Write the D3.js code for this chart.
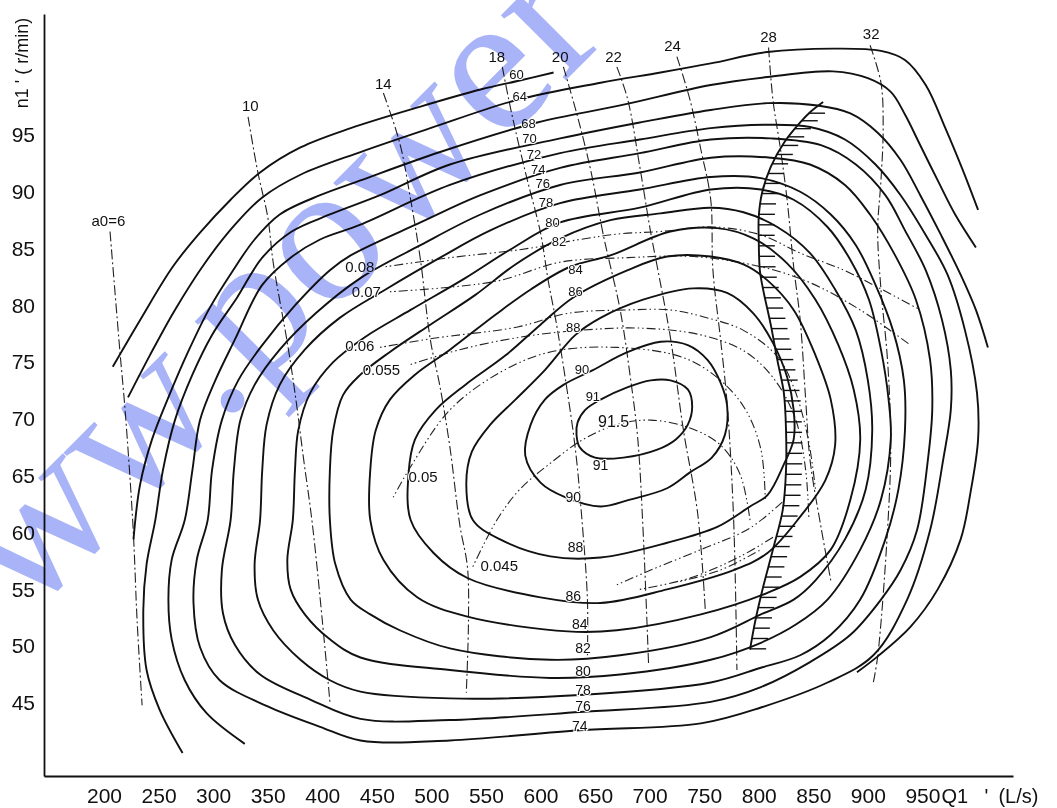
<!DOCTYPE html>
<html><head><meta charset="utf-8">
<script src="https://cdn.jsdelivr.net/npm/d3@7"></script>
<style>
body{margin:0;background:#fff;}
svg{display:block;}
</style></head><body>
<svg id="chart" width="1057" height="808"></svg>
<script>
// ---------- axes ----------
const qDomain = [145, 1033];
const nDomain = [38.57, 105.65];
const qTicks = [200,250,300,350,400,450,500,550,600,650,700,750,800,850,900,950];
const nTicks = [45,50,55,60,65,70,75,80,85,90,95];

// ---------- efficiency contours  [Q1' (L/s), n1' (r/min)] ----------
const eff60 = [[208,74.6],[233,78.7],[263,83.4],[288,86.4],[316,89.3],[343,91.7],[380,93.9],[426,95.6],[490,97.5],[545,99.0],[581,99.8],[612,100.5]];
const eff64 = [[222,71.9],[242,75.6],[265,79.6],[293,83.8],[320,87.1],[345,89.5],[380,91.5],[435,93.5],[499,95.6],[579,98.1],[655,99.6],[710,100.5],[756,101.3],[808,102.3],[868,102.6],[912,102.4],[934,101.6],[953,99.4],[971,95.6],[987,91.9],[1001,88.4]];
const eff68 = [[227,59.4],[233,64.2],[244,68.2],[259,71.9],[277,75.9],[297,79.8],[317,82.9],[338,85.8],[361,88.0],[398,89.7],[435,91.0],[508,93.5],[597,96.1],[673,97.6],[756,99.4],[808,100.1],[868,100.6],[900,100.0],[921,98.8],[934,96.8],[948,94.1],[964,91.0],[980,88.0],[999,85.1]];
const eff70 = [[272,40.6],[251,44.4],[239,47.9],[236,53.2],[239,57.2],[247,61.1],[254,65.5],[265,69.9],[281,73.9],[299,77.4],[322,80.7],[345,84.2],[372,86.5],[407,88.0],[453,89.7],[517,92.4],[618,94.7],[691,96.1],[756,97.2],[808,97.8],[854,97.6],[884,96.9],[909,95.2],[930,92.8],[948,89.7],[967,86.2],[985,82.7],[999,79.6],[1010,76.3]];
const eff72 = [[329,41.4],[294,44.1],[274,47.0],[262,50.6],[259,54.1],[262,57.6],[274,61.1],[281,65.5],[288,69.9],[302,73.4],[320,77.0],[345,81.8],[371,84.2],[398,85.8],[435,87.1],[517,90.6],[618,93.4],[691,94.6],[756,95.6],[808,95.9],[847,95.7],[879,94.6],[907,92.4],[930,89.7],[953,86.2],[973,82.7],[989,77.8],[1000,72.3],[1001,68.2],[994,63.5],[985,59.4],[964,55.0],[939,51.7],[909,49.1],[890,47.7]];
const eff74 = [[295,61.1],[299,65.5],[308,69.9],[323,73.4],[345,76.5],[375,80.0],[407,83.1],[426,84.4],[490,87.3],[545,89.7],[618,92.1],[691,93.4],[756,94.6],[811,94.7],[857,94.1],[889,92.4],[916,89.7],[934,86.6],[953,83.1],[968,78.7],[976,74.3],[976,70.8],[969,66.4],[957,60.2],[936,54.1],[905,49.2],[863,46.8],[802,44.6],[747,43.2],[636,42.6],[517,41.7],[435,41.7],[398,42.9],[350,44.7],[306,47.0],[288,49.9],[282,53.8],[285,57.6]];
const eff76 = [[316,61.1],[319,65.5],[325,69.9],[338,73.0],[361,76.1],[394,79.3],[435,82.4],[490,85.3],[545,88.0],[618,90.6],[691,91.7],[756,93.0],[811,93.0],[847,92.4],[879,90.6],[902,88.0],[925,84.4],[944,80.5],[957,75.2],[959,70.8],[955,66.4],[945,60.2],[930,56.7],[912,54.1],[884,51.0],[847,48.6],[802,46.4],[756,45.1],[636,44.2],[517,43.5],[435,43.6],[389,45.3],[343,47.5],[320,50.1],[309,52.9],[308,56.7]];
const eff78 = [[343,61.1],[345,65.5],[349,69.5],[361,73.0],[384,76.1],[416,78.9],[458,81.4],[508,84.2],[554,86.6],[618,89.0],[691,90.2],[756,91.3],[802,91.2],[838,90.0],[866,88.0],[889,85.3],[907,81.8],[923,77.8],[933,73.4],[934,69.0],[928,63.8],[916,59.4],[893,54.1],[866,51.0],[838,49.2],[802,48.1],[756,46.8],[636,45.7],[517,45.4],[435,46.0],[407,47.0],[380,48.8],[355,51.4],[341,54.1],[338,57.2]];
const eff80 = [[373,61.1],[375,65.5],[378,69.0],[389,72.3],[410,75.0],[439,77.2],[481,79.6],[531,82.4],[572,84.9],[618,87.3],[691,88.6],[756,90.2],[802,90.2],[832,89.3],[863,86.9],[884,84.0],[901,80.5],[912,76.1],[919,71.7],[921,68.2],[912,62.9],[893,58.5],[863,54.1],[834,51.9],[802,50.3],[756,48.8],[673,47.5],[609,47.2],[517,47.9],[435,49.0],[407,50.6],[384,52.8],[371,55.0],[368,57.6]];
const eff82 = [[407,61.1],[407,65.5],[410,69.0],[419,72.1],[435,73.9],[462,75.9],[499,78.3],[540,80.9],[577,83.6],[618,85.9],[664,87.5],[710,88.1],[756,88.6],[786,88.2],[817,86.9],[847,84.6],[870,81.4],[889,77.8],[900,73.4],[904,69.0],[898,63.8],[879,59.4],[852,55.8],[832,54.1],[802,52.8],[756,50.8],[673,49.2],[609,48.8],[517,49.8],[471,51.4],[444,52.8],[426,54.1],[412,57.2]];
const eff84 = [[444,61.1],[444,65.5],[449,69.0],[462,71.7],[485,73.9],[517,76.1],[559,79.2],[591,81.4],[627,83.4],[664,84.4],[719,86.5],[762,86.8],[795,85.9],[826,83.7],[852,80.5],[873,76.5],[887,72.6],[893,68.2],[884,62.9],[866,58.5],[838,56.1],[808,54.7],[747,52.8],[670,51.4],[625,51.3],[533,52.6],[487,54.3],[456,57.6]];
const eff86 = [[481,61.1],[479,65.1],[485,68.2],[504,70.8],[531,73.0],[568,75.6],[600,78.3],[630,80.7],[680,83.1],[716,84.3],[756,84.3],[786,83.6],[808,82.2],[832,79.6],[852,75.6],[866,71.7],[870,67.7],[861,64.6],[838,61.4],[808,58.2],[777,56.7],[716,55.0],[655,53.8],[600,54.3],[533,56.0],[502,58.2]];
const eff88 = [[538,61.1],[532,64.2],[537,67.1],[554,69.5],[577,71.7],[604,74.3],[632,77.4],[655,78.9],[694,80.5],[740,81.5],[771,81.1],[795,79.3],[813,76.7],[826,73.7],[832,70.8],[832,68.2],[823,66.0],[808,63.3],[792,62.3],[762,60.5],[716,59.1],[655,57.8],[609,57.9],[563,59.4]];
const eff90 = [[586,66.8],[591,69.5],[604,71.7],[621,73.0],[648,74.3],[680,75.9],[710,76.8],[735,76.5],[753,75.2],[765,73.2],[771,71.2],[769,68.6],[757,66.6],[737,65.3],[716,63.9],[682,62.9],[655,62.3],[623,63.1],[600,64.4]];
const eff91 = [[634,69.7],[641,70.8],[655,71.7],[680,72.8],[701,73.4],[719,73.4],[735,72.6],[739,71.1],[735,69.5],[724,68.2],[707,67.3],[676,66.6],[650,66.6],[636,67.5],[633,68.6]];

// contour labels: [text, Q, n]
const effLabelsUpper = [["60",578,100.2],["64",581,98.3],["68",589,95.9],["70",590,94.6],["72",594,93.2],["74",598,91.9],["76",602,90.6],["78",605,89.0],["80",611,87.2],["82",617,85.5],["84",632,83.1],["86",632,81.1],["88",630,78.0],["90",638,74.3],["91",648,71.9]];
const effLabelsCenter = [["91.5",667,69.65]];
const effLabelsLower = [["91",655,65.8],["90",630,63.0],["88",632,58.6],["86",630,54.3],["84",636,51.8],["82",639,49.7],["80",639,47.7],["78",639,46.06],["76",639,44.6],["74",636,42.9]];

// ---------- guide-vane opening a0 lines ----------
const a0_6  = [[205.5,86.5],[214.7,75.8],[219.3,70.8],[226.6,60.5],[230.3,52.3],[234.9,44.8]];
const a0_10 = [[332,96.6],[341,91.7],[350,87.8],[355,83.8],[368,76.7],[375,72.3],[383,66.4],[391,60.7],[400,52.3],[407,45.1]];
const a0_14 = [[456,98.7],[471,94.3],[481,89.3],[490,84.0],[499,77.0],[508,72.8],[517,67.5],[526,60.7],[533,57.0],[534,52.3],[532,45.9]];
const a0_18 = [[565,101.0],[572,97.6],[579,94.6],[588,91.0],[600,86.4],[607,82.2],[614,78.7],[623,73.4],[632,67.3],[638,61.1],[643,54.1],[643,49.2]];
const a0_20 = [[621,101.0],[634,96.6],[646,91.9],[658,86.0],[673,79.6],[682,73.9],[689,68.4],[694,60.2],[699,48.5]];
const a0_22 = [[670,101.0],[680,98.1],[691,92.2],[701,86.4],[707,83.4],[719,77.2],[731,69.0],[744,61.7],[751,53.2]];
const a0_24 = [[725,101.9],[737,98.1],[747,93.7],[756,89.3],[758,83.1],[765,77.0],[771,71.4],[777,61.1],[780,47.9]];
const a0_28 = [[809,102.7],[813,98.1],[820,93.7],[826,89.3],[832,83.4],[838,78.7],[843,71.7],[847,66.4],[857,60.5],[866,55.8]];
const a0_32 = [[902,102.9],[912,99.6],[914,95.4],[912,91.0],[909,86.6],[912,81.4],[918,75.2],[921,67.9],[918,60.2],[909,49.1],[905,46.8]];
const a0Labels = [["a0=6",204,87.3],["10",334,97.5],["14",456,99.4],["18",560,101.8],["20",618,101.8],["22",667,101.8],["24",721,102.7],["28",809,103.5],["32",903,103.8]];

// ---------- cavitation coefficient sigma lines ----------
const sig008  = [[458,83.4],[517,84.2],[581,84.9],[636,85.8],[673,86.3],[710,86.5],[758,86.9],[802,86.2],[838,84.6],[878,83.1],[909,81.6],[948,79.6]];
const sig007  = [[462,81.2],[517,81.6],[563,82.2],[618,83.8],[680,84.2],[740,84.3],[802,83.4],[847,82.0],[893,79.6],[939,76.5]];
const sig006  = [[453,76.3],[502,77.1],[579,78.1],[625,79.3],[680,79.6],[719,79.6],[749,79.0],[786,77.8],[817,75.5],[832,72.8],[845,68.4],[852,63.8]];
const sig0055 = [[481,74.8],[526,76.1],[581,77.2],[636,77.8],[691,78.0],[747,77.4],[788,75.9],[815,73.4],[834,69.9],[843,65.5],[846,61.1]];
const sig005  = [[465,63.1],[481,65.8],[517,70.8],[563,74.1],[609,75.9],[670,76.3],[731,75.4],[765,73.4],[788,70.8],[802,67.3],[806,62.9]];
const sig0045 = [[538,57.0],[560,61.1],[581,63.8],[609,66.1],[639,68.2],[670,69.5],[701,69.9],[737,69.2],[765,67.7],[783,65.1],[792,61.1]];
const sigExtra1 = [[670,55.4],[701,56.7],[747,58.5],[792,60.4],[824,62.9]];
const sigExtra2 = [[691,55.0],[737,56.0],[783,57.9],[815,59.7]];
const sigExtra3 = [[728,55.7],[765,56.7],[802,58.5]];
const sigLabels = [["0.08",421,83.3],["0.07",427,81.1],["0.06",421,76.3],["0.055",437,74.2],["0.05",479,64.8],["0.045",545,57.0]];

// ---------- power limit line (hatched) ----------
const limitLine = [[859,97.9],[847,97.0],[838,96.1],[823,94.3],[811,92.2],[803,89.9],[800,87.8],[800,85.8],[801,83.1],[804,81.4],[811,78.3],[817,75.2],[823,72.3],[825,69.0],[825,65.5],[822,62.0],[813,58.5],[804,55.2],[797,52.3],[792,49.7]];

// ================= drawing =================
const FONT = "'Liberation Sans', Arial, Helvetica, sans-serif";
const svg = d3.select("#chart");
const x = d3.scaleLinear().domain(qDomain).range([44, 1013]);
const y = d3.scaleLinear().domain(nDomain).range([776, 14]);

const openLine = d3.line().x(d => x(d[0])).y(d => y(d[1])).curve(d3.curveCatmullRom.alpha(0.5));
const closedLine = d3.line().x(d => x(d[0])).y(d => y(d[1])).curve(d3.curveCatmullRomClosed.alpha(0.5));

const gMarks = svg.append("g");

// guide-vane lines
const a0Lines = [a0_6, a0_10, a0_14, a0_18, a0_20, a0_22, a0_24, a0_28, a0_32];
gMarks.selectAll("path.a0").data(a0Lines).join("path").attr("class","a0")
  .attr("d", openLine).attr("fill","none").attr("stroke","#222")
  .attr("stroke-width",1.1).attr("stroke-dasharray","10,3,2,3");

// sigma lines
const sigLines = [sig008, sig007, sig006, sig0055, sig005, sig0045, sigExtra1, sigExtra2, sigExtra3];
gMarks.selectAll("path.sig").data(sigLines).join("path").attr("class","sig")
  .attr("d", openLine).attr("fill","none").attr("stroke","#222")
  .attr("stroke-width",1.1).attr("stroke-dasharray","1.5,3,1.5,3,9,3");

// efficiency contours
const openContours = [eff60, eff64, eff68, eff70, eff72];
const closedContours = [eff74, eff76, eff78, eff80, eff82, eff84, eff86, eff88, eff90, eff91];
gMarks.selectAll("path.eo").data(openContours).join("path").attr("class","eo")
  .attr("d", openLine).attr("fill","none").attr("stroke","#111").attr("stroke-width",1.9);
gMarks.selectAll("path.ec").data(closedContours).join("path").attr("class","ec")
  .attr("d", closedLine).attr("fill","none").attr("stroke","#111").attr("stroke-width",1.9);

// limit line with hatching
const limPath = gMarks.append("path").attr("d", openLine(limitLine))
  .attr("fill","none").attr("stroke","#111").attr("stroke-width",1.9);
const L = limPath.node().getTotalLength();
const hatchPts = d3.range(18, L, 10.5).map(s => limPath.node().getPointAtLength(s));
gMarks.selectAll("line.hatch").data(hatchPts).join("line").attr("class","hatch")
  .attr("x1", p => p.x).attr("y1", p => p.y).attr("x2", p => p.x + 16).attr("y2", p => p.y)
  .attr("stroke","#111").attr("stroke-width",1.4);

// axes
const xAxis = d3.axisBottom(x).tickValues(qTicks).tickSize(0).tickSizeOuter(0).tickPadding(12).tickFormat(d3.format("d"));
const yAxis = d3.axisLeft(y).tickValues(nTicks).tickSize(0).tickSizeOuter(0).tickPadding(9).tickFormat(d3.format("d"));
svg.append("g").attr("transform","translate(0,776)").call(xAxis)
  .attr("font-size",21).attr("font-family",FONT)
  .call(g => g.select(".domain").attr("stroke","#111").attr("stroke-width",1.8))
  .call(g => g.selectAll("text").attr("fill","#111"));
svg.append("g").attr("transform","translate(44,0)").call(yAxis)
  .attr("font-size",21).attr("font-family",FONT)
  .call(g => g.select(".domain").attr("stroke","#111").attr("stroke-width",1.8))
  .call(g => g.selectAll("text").attr("fill","#111"));

// axis titles
const qTitle = svg.append("text").attr("y", 803)
  .attr("font-family",FONT).attr("font-size",20).attr("fill","#111");
qTitle.append("tspan").attr("x", x(950) + 19).text("Q1");
qTitle.append("tspan").attr("x", x(950) + 62).text("'");
qTitle.append("tspan").attr("x", x(950) + 76).text("(L/s)");
svg.append("text").attr("transform","translate(28,63) rotate(-90)")
  .attr("text-anchor","middle").attr("font-family",FONT).attr("font-size",18).attr("fill","#111")
  .text("n1 ' ( r/min)");

// labels
function labelLayer(data, size, anchor) {
  svg.append("g").selectAll("text").data(data).join("text")
    .attr("x", d => x(d[1])).attr("y", d => y(d[2]))
    .attr("text-anchor", anchor).attr("dominant-baseline","middle")
    .attr("font-family", FONT).attr("font-size", size).attr("fill","#111")
    .attr("stroke","#fff").attr("stroke-width",2.2).attr("paint-order","stroke")
    .text(d => d[0]);
}
labelLayer(effLabelsUpper, 13, "middle");
labelLayer(effLabelsCenter, 16, "middle");
labelLayer(effLabelsLower, 14, "middle");
labelLayer(a0Labels, 15, "middle");
labelLayer(sigLabels, 15, "start");

// watermark
svg.append("text")
  .attr("transform","translate(-76,722) rotate(-45)")
  .attr("font-family","'Liberation Serif', 'Times New Roman', serif")
  .attr("font-size",200).attr("fill","#93a0f5").attr("opacity",0.8)
  .style("mix-blend-mode","multiply")
  .text("www.power");
</script></body></html>
